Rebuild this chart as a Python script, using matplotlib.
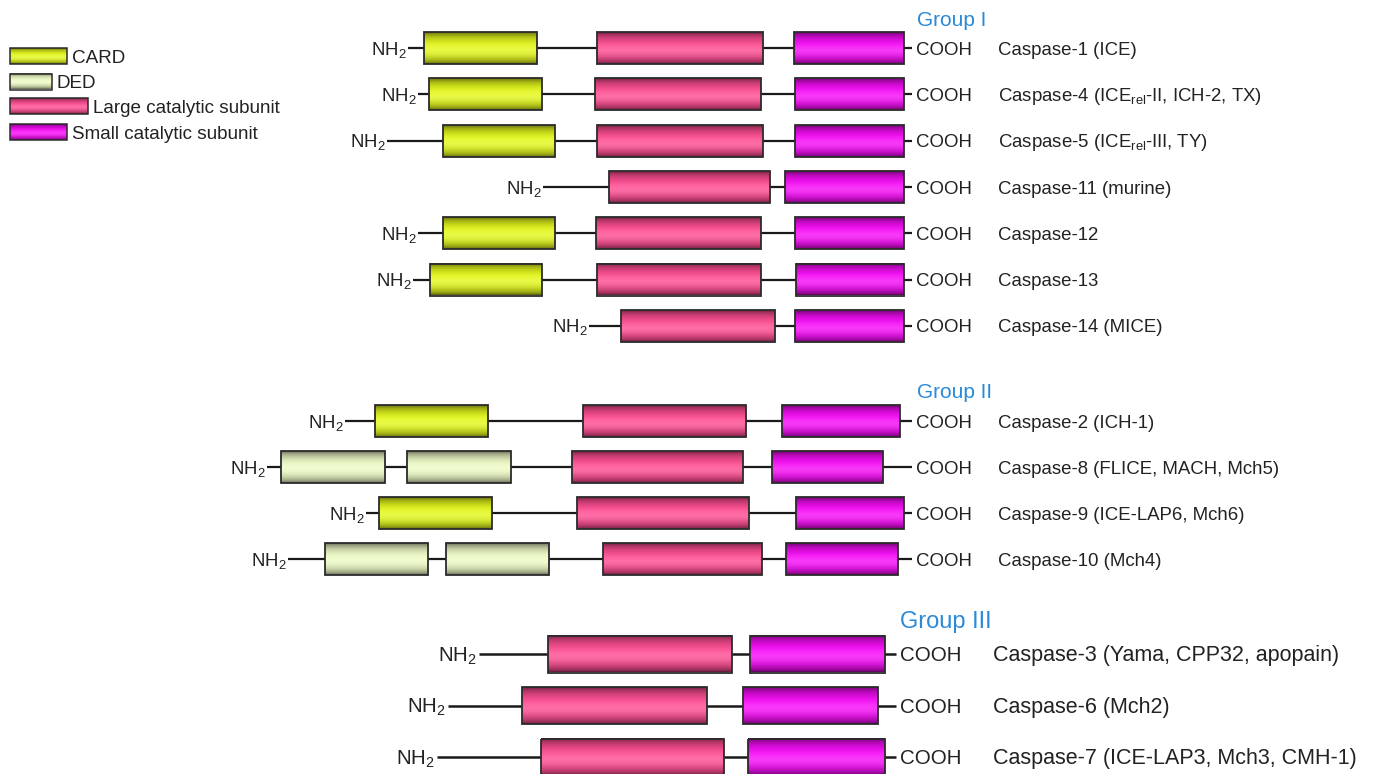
import numpy as np
import matplotlib
matplotlib.use("Agg")
import matplotlib.pyplot as plt
from matplotlib.colors import to_rgb
from matplotlib.patches import Rectangle

plt.rcParams['font.family'] = ['Liberation Sans', 'DejaVu Sans']
plt.rcParams['mathtext.fontset'] = 'custom'
plt.rcParams['mathtext.rm'] = 'Liberation Sans'
plt.rcParams['mathtext.it'] = 'Liberation Sans:italic'
plt.rcParams['mathtext.bf'] = 'Liberation Sans:bold'

# Data: domain boundaries for each caspase (image units)

group_labels = ['Group I', 'Group II', 'Group III']

names_g1 = ['Caspase-1 (ICE)',
            r'Caspase-4 (ICE$_\mathregular{rel}$-II, ICH-2, TX)',
            r'Caspase-5 (ICE$_\mathregular{rel}$-III, TY)',
            'Caspase-11 (murine)',
            'Caspase-12',
            'Caspase-13',
            'Caspase-14 (MICE)']
starts_g1 = [408, 418, 387, 543, 418, 413, 589]
domains_g1 = [
    [('CARD', 424, 537), ('Large', 597, 763), ('Small', 794, 904)],
    [('CARD', 429, 542), ('Large', 595, 761), ('Small', 795, 904)],
    [('CARD', 443, 555), ('Large', 597, 763), ('Small', 795, 904)],
    [('Large', 609, 770), ('Small', 785, 904)],
    [('CARD', 443, 555), ('Large', 596, 761), ('Small', 795, 904)],
    [('CARD', 430, 542), ('Large', 597, 761), ('Small', 796, 904)],
    [('Large', 621, 775), ('Small', 795, 904)],
]

names_g2 = ['Caspase-2 (ICH-1)',
            'Caspase-8 (FLICE, MACH, Mch5)',
            'Caspase-9 (ICE-LAP6, Mch6)',
            'Caspase-10 (Mch4)']
starts_g2 = [345, 267, 366, 288]
domains_g2 = [
    [('CARD', 375, 488), ('Large', 583, 746), ('Small', 782, 900)],
    [('DED', 281, 385), ('DED', 407, 511), ('Large', 572, 743), ('Small', 772, 883)],
    [('CARD', 379, 492), ('Large', 577, 749), ('Small', 796, 904)],
    [('DED', 325, 428), ('DED', 446, 549), ('Large', 603, 762), ('Small', 786, 898)],
]

names_g3 = ['Caspase-3 (Yama, CPP32, apopain)',
            'Caspase-6 (Mch2)',
            'Caspase-7 (ICE-LAP3, Mch3, CMH-1)']
starts_g3 = [479, 448, 437]
domains_g3 = [
    [('Large', 548, 732), ('Small', 750, 885)],
    [('Large', 522, 707), ('Small', 743, 878)],
    [('Large', 541, 724), ('Small', 748, 885)],
]

legend_names = ['CARD', 'DED', 'Large catalytic subunit', 'Small catalytic subunit']
legend_keys = ['CARD', 'DED', 'Large', 'Small']

# Styles
colors = {'CARD': '#e4f81c', 'DED': '#eefbc6', 'Large': '#ff4d93', 'Small': '#f80cf8'}
edge = '#2b2b2b'
txt = '#222222'
blue = '#2a8ad8'

# layout per group: first row y, row step, box height, line end, COOH x, name x, fonts, label (x, y, size)
layout = [
    dict(y0=48, dy=46.3, h=32, end=912, cx=916, nx=998, fs=13.4, nfs=13.4, lab=(917, 20, 15)),
    dict(y0=421, dy=46.0, h=32, end=912, cx=916, nx=998, fs=13.4, nfs=13.4, lab=(917, 393, 15)),
    dict(y0=654, dy=51.5, h=37, end=896, cx=900, nx=993, fs=14.8, nfs=15.5, lab=(900, 622, 17)),
]


def shade(color, n=60):
    base = np.array(to_rgb(color))
    t = np.linspace(0, 1, n)
    k = np.sin(np.pi * t) ** 0.55
    f = 0.36 + 0.64 * k
    rgb = base[None, :] * f[:, None]
    hl = 0.18 * np.exp(-((t - 0.58) / 0.2) ** 2)
    rgb = rgb + (1 - rgb) * hl[:, None]
    return np.clip(rgb[:, None, :], 0, 1)


def draw_box(ax, kind, x0, x1, yc, h, lw=1.3):
    ax.imshow(shade(colors[kind]), extent=(x0, x1, yc + h / 2, yc - h / 2),
              origin='upper', aspect='auto', interpolation='bilinear', zorder=3)
    ax.add_patch(Rectangle((x0, yc - h / 2), x1 - x0, h, fill=False,
                           edgecolor=edge, linewidth=lw, zorder=4))


fig = plt.figure(figsize=(13.73, 7.74), dpi=100)
ax = fig.add_axes([0, 0, 1, 1])

groups = [(names_g1, starts_g1, domains_g1),
          (names_g2, starts_g2, domains_g2),
          (names_g3, starts_g3, domains_g3)]

for g, (names, starts, domains) in enumerate(groups):
    L = layout[g]
    em = L['fs'] * 100 / 72
    lx, ly, lfs = L['lab']
    ax.text(lx, ly, group_labels[g], color=blue, fontsize=lfs, ha='left', va='center')
    for i, name in enumerate(names):
        yc = L['y0'] + i * L['dy']
        lw_line = 1.6 if g < 2 else 1.8
        ax.plot([starts[i], L['end']], [yc, yc], color='#1a1a1a', lw=lw_line,
                solid_capstyle='butt', zorder=2)
        for kind, x0, x1 in domains[i]:
            draw_box(ax, kind, x0, x1, yc, L['h'])
        base_y = yc + 0.36 * em
        ax.text(starts[i] - 1.5, base_y, r'NH$_\mathregular{2}$', fontsize=L['fs'],
                color=txt, ha='right', va='baseline')
        ax.text(L['cx'], base_y, 'COOH', fontsize=L['fs'], color=txt,
                ha='left', va='baseline')
        ax.text(L['nx'], base_y, name, fontsize=L['nfs'], color=txt,
                ha='left', va='baseline')

# Legend
leg_y = [56, 81.5, 106, 132]
leg_w = [57, 42, 78, 57]
for key, name, yc, w in zip(legend_keys, legend_names, leg_y, leg_w):
    draw_box(ax, key, 10, 10 + w, yc, 16, lw=1.1)
    ax.text(10 + w + 5, yc + 0.36 * 13.6 * 100 / 72, name, fontsize=13.6,
            color=txt, ha='left', va='baseline')

ax.set_xlim(0, 1373)
ax.set_ylim(774, 0)
ax.axis('off')

plt.savefig("out.png", dpi=100)
